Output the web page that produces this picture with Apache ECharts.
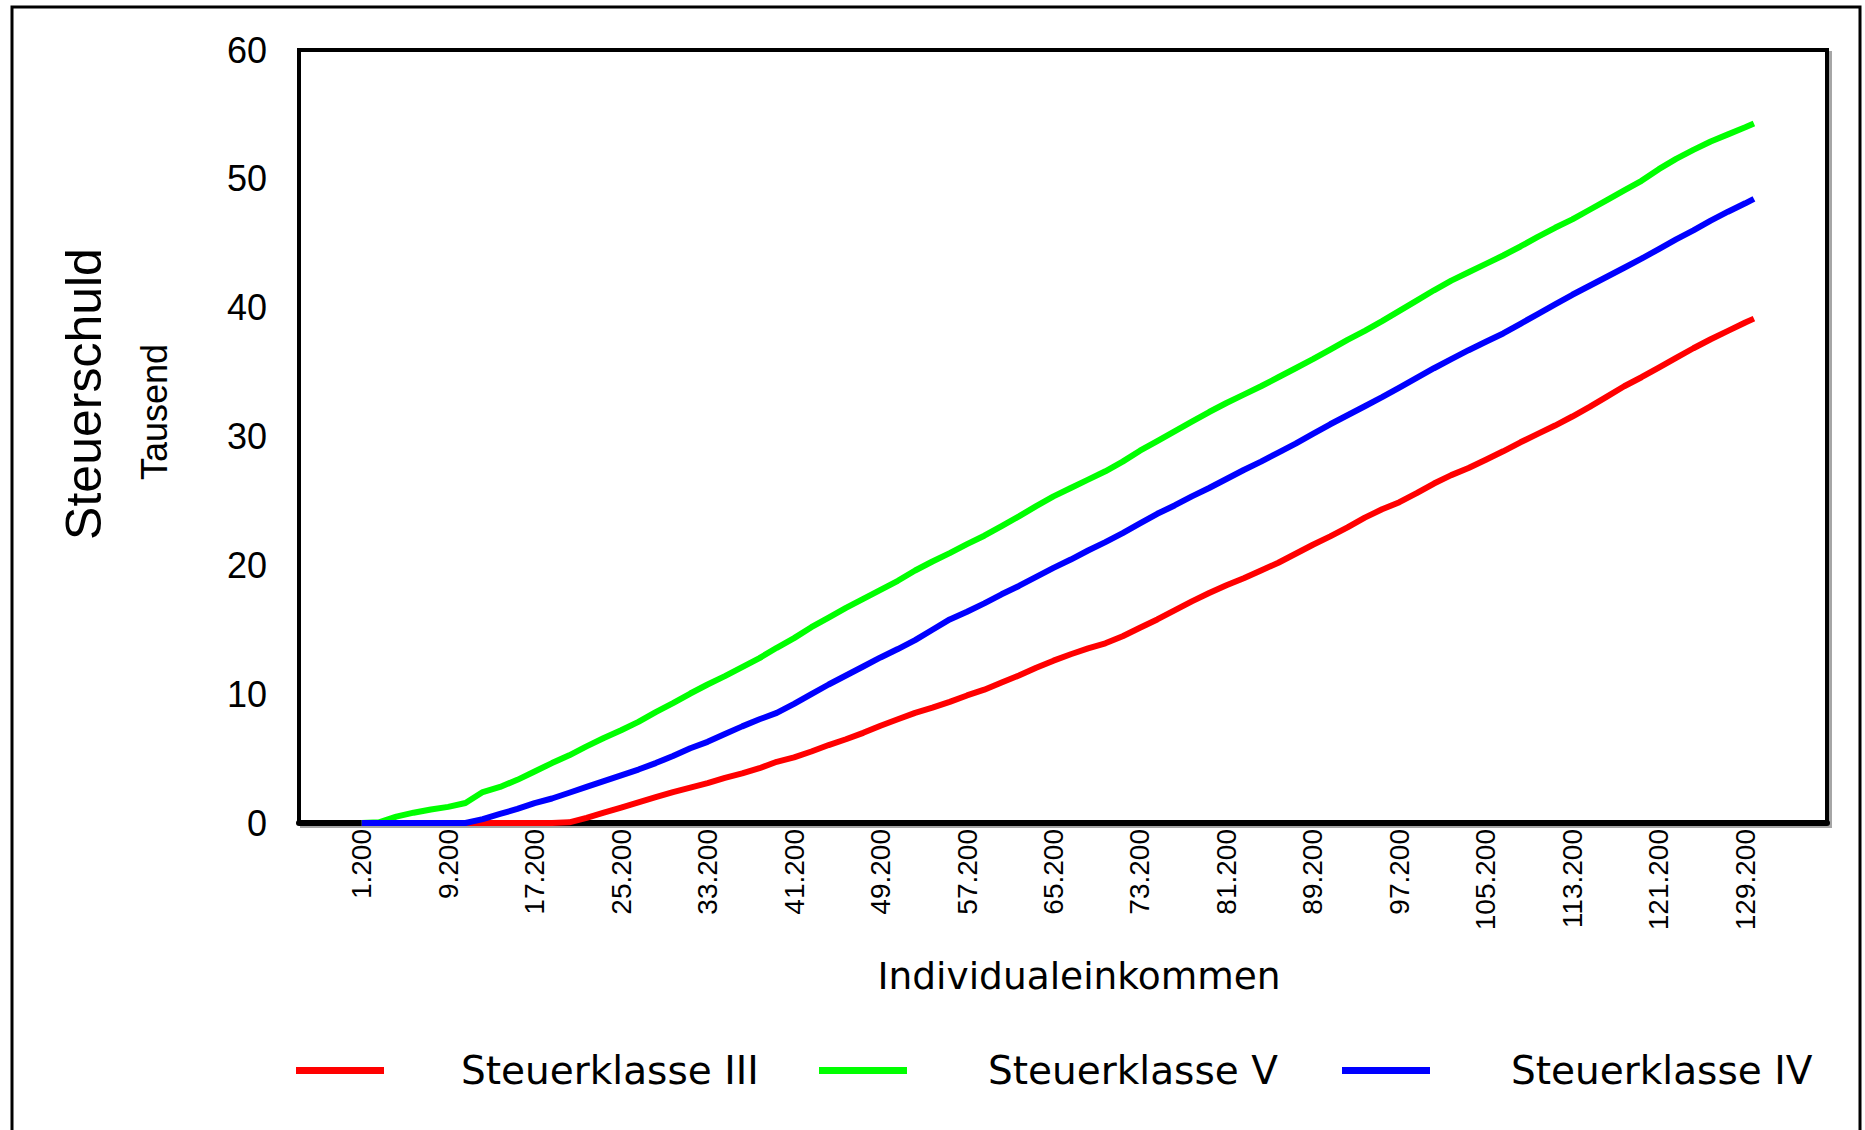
<!DOCTYPE html>
<html>
<head>
<meta charset="utf-8">
<title>Steuerschuld nach Steuerklasse</title>
<script src="https://cdn.jsdelivr.net/npm/echarts@6.0.0/dist/echarts.min.js"></script>
<style>
  html, body { margin: 0; padding: 0; background: #fff; }
  #chart { width: 1865px; height: 1130px; }
</style>
</head>
<body>
<div id="chart"></div>
<script>
// Individualeinkommen (x-Werte der Kurven)
var incomes = [1200, 2800, 4400, 6000, 7600, 9200, 10800, 12400, 14000, 15600,
  17200, 18800, 20400, 22000, 23600, 25200, 26800, 28400, 30000, 31600,
  33200, 34800, 36400, 38000, 39600, 41200, 42800, 44400, 46000, 47600,
  49200, 50800, 52400, 54000, 55600, 57200, 58800, 60400, 62000, 63600,
  65200, 66800, 68400, 70000, 71600, 73200, 74800, 76400, 78000, 79600,
  81200, 82800, 84400, 86000, 87600, 89200, 90800, 92400, 94000, 95600,
  97200, 98800, 100400, 102000, 103600, 105200, 106800, 108400, 110000, 111600,
  113200, 114800, 116400, 118000, 119600, 121200, 122800, 124400, 126000, 127600,
  129200, 130000];

// Steuerschuld in Tausend
var steuerklasseIII = [0, 0, 0, 0, 0, 0, 0, 0, 0, 0,
  0, 0, 0.05, 0.4, 0.8, 1.2, 1.6, 2.0, 2.4, 2.75,
  3.1, 3.5, 3.85, 4.25, 4.75, 5.1, 5.55, 6.05, 6.5, 7.0,
  7.55, 8.05, 8.55, 8.95, 9.4, 9.9, 10.35, 10.9, 11.45, 12.05,
  12.6, 13.1, 13.55, 13.95, 14.5, 15.15, 15.8, 16.5, 17.2, 17.85,
  18.45, 19.0, 19.6, 20.2, 20.9, 21.6, 22.25, 22.95, 23.7, 24.35,
  24.9, 25.6, 26.35, 27.0, 27.55, 28.2, 28.85, 29.55, 30.2, 30.85,
  31.55, 32.3, 33.1, 33.9, 34.6, 35.35, 36.1, 36.85, 37.55, 38.2,
  38.85, 39.15];

var steuerklasseV = [0.0, 0.05, 0.5, 0.8, 1.05, 1.25, 1.55, 2.4, 2.8, 3.35,
  4.0, 4.65, 5.25, 5.95, 6.6, 7.2, 7.85, 8.6, 9.3, 10.05,
  10.75, 11.4, 12.1, 12.8, 13.6, 14.35, 15.2, 15.95, 16.7, 17.4,
  18.1, 18.8, 19.6, 20.3, 20.95, 21.65, 22.3, 23.05, 23.8, 24.6,
  25.35, 26.0, 26.65, 27.3, 28.05, 28.9, 29.65, 30.4, 31.15, 31.9,
  32.6, 33.25, 33.9, 34.6, 35.3, 36.0, 36.75, 37.5, 38.2, 38.95,
  39.75, 40.55, 41.35, 42.1, 42.75, 43.4, 44.05, 44.75, 45.5, 46.2,
  46.85, 47.6, 48.35, 49.1, 49.85, 50.75, 51.55, 52.25, 52.9, 53.45,
  54.0, 54.3];

var steuerklasseIV = [0, 0, 0, 0, 0, 0, 0, 0.3, 0.7, 1.1,
  1.55, 1.9, 2.35, 2.8, 3.25, 3.7, 4.15, 4.65, 5.2, 5.8,
  6.3, 6.9, 7.5, 8.05, 8.55, 9.25, 10.0, 10.75, 11.45, 12.15,
  12.85, 13.5, 14.2, 15.0, 15.8, 16.4, 17.05, 17.75, 18.4, 19.1,
  19.8, 20.45, 21.15, 21.8, 22.5, 23.25, 24.0, 24.65, 25.35, 26.0,
  26.7, 27.4, 28.05, 28.75, 29.45, 30.2, 30.95, 31.65, 32.35, 33.05,
  33.8, 34.55, 35.3, 36.0, 36.7, 37.35, 38.0, 38.75, 39.5, 40.25,
  41.0, 41.7, 42.4, 43.1, 43.8, 44.55, 45.3, 46.0, 46.75, 47.45,
  48.1, 48.45];

// Beschriftete Einkommenswerte auf der x-Achse
var xTicks = [1200, 9200, 17200, 25200, 33200, 41200, 49200, 57200, 65200,
  73200, 81200, 89200, 97200, 105200, 113200, 121200, 129200];

function pairs(values) {
  return values.map(function (v, i) { return [incomes[i], v]; });
}

// 1200 -> "1.200"
function formatDE(v) {
  return String(v).replace(/\B(?=(\d{3})+(?!\d))/g, '.');
}

var arial = "'Liberation Sans', Arial, sans-serif";
var tahoma = "'DejaVu Sans', Verdana, sans-serif";

function lineSeries(name, values, color) {
  return {
    name: name,
    type: 'line',
    data: pairs(values),
    showSymbol: false,
    silent: true,
    color: color,
    itemStyle: { color: color },
    lineStyle: { width: 6, color: color },
    emphasis: { disabled: true }
  };
}

// one legend per entry, so every entry sits where it is in the original
function legendAt(name, left, textGap) {
  return {
    data: [name],
    left: left,
    top: 1051,
    padding: 0,
    icon: 'rect',
    itemWidth: 88,
    itemHeight: 7,
    selectedMode: false,
    textStyle: {
      fontFamily: tahoma,
      fontSize: 39,
      color: '#000',
      padding: [0, 0, 0, textGap]
    }
  };
}

var chart = echarts.init(document.getElementById('chart'), null, { renderer: 'svg' });

var option = {
  animation: false,
  backgroundColor: '#fff',
  grid: {
    left: 299,
    right: 38,
    top: 50,
    bottom: 307,
    containLabel: false,
    show: true,
    backgroundColor: '#fff',
    borderColor: '#000',
    borderWidth: 4,
    shadowColor: 'rgba(0,0,0,0.35)',
    shadowOffsetX: 3,
    shadowOffsetY: 3,
    shadowBlur: 1
  },
  xAxis: {
    type: 'value',
    min: -4600,
    max: 136760,
    axisLine: { show: true, onZero: false, lineStyle: { color: '#000', width: 6 } },
    axisTick: { show: false },
    splitLine: { show: false },
    axisLabel: {
      customValues: xTicks,
      rotate: 90,
      margin: 6,
      fontSize: 28,
      fontFamily: arial,
      color: '#000',
      formatter: formatDE
    }
  },
  yAxis: {
    type: 'value',
    min: 0,
    max: 60,
    interval: 10,
    axisLine: { show: false },
    axisTick: { show: false },
    splitLine: {
      show: true,
      lineStyle: { color: '#000', width: 3, shadowColor: 'rgba(0,0,0,0.3)', shadowOffsetY: 2, shadowBlur: 1 }
    },
    axisLabel: {
      margin: 32,
      fontSize: 36,
      fontFamily: arial,
      color: '#000'
    }
  },
  legend: [
    legendAt('Steuerklasse III', 296, 72),
    legendAt('Steuerklasse V', 819, 76),
    legendAt('Steuerklasse IV', 1342, 76)
  ],
  graphic: [
    {
      type: 'rect',
      shape: { x: 12, y: 7, width: 1848, height: 1200 },
      style: { fill: 'none', stroke: '#000', lineWidth: 3 },
      silent: true
    },
    {
      type: 'text',
      x: 84,
      y: 394,
      rotation: Math.PI / 2,
      style: {
        text: 'Steuerschuld',
        font: "50px 'Liberation Sans', Arial, sans-serif",
        fill: '#000',
        align: 'center', verticalAlign: 'middle',
        textAlign: 'center', textVerticalAlign: 'middle'
      }
    },
    {
      type: 'text',
      x: 154,
      y: 412,
      rotation: Math.PI / 2,
      style: {
        text: 'Tausend',
        font: "36px 'Liberation Sans', Arial, sans-serif",
        fill: '#000',
        align: 'center', verticalAlign: 'middle',
        textAlign: 'center', textVerticalAlign: 'middle'
      }
    },
    {
      type: 'text',
      x: 1079,
      y: 976,
      style: {
        text: 'Individualeinkommen',
        font: "37.5px 'DejaVu Sans', Verdana, sans-serif",
        fill: '#000',
        align: 'center', verticalAlign: 'middle',
        textAlign: 'center', textVerticalAlign: 'middle'
      }
    }
  ],
  series: [
    lineSeries('Steuerklasse III', steuerklasseIII, '#ff0000'),
    lineSeries('Steuerklasse V', steuerklasseV, '#00ff00'),
    lineSeries('Steuerklasse IV', steuerklasseIV, '#0000ff')
  ]
};

chart.setOption(option);
</script>
</body>
</html>
